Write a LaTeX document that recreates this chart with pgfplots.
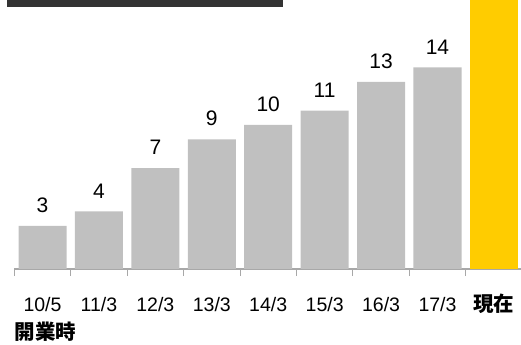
\documentclass[border=0pt]{standalone}
\usepackage{fontspec}
\setmainfont{Liberation Sans}
\newfontfamily\lbl{Liberation Sans}
\newfontfamily\cjk{Noto Sans CJK JP}
\usepackage{pgfplots}
\pgfplotsset{compat=1.18}
\definecolor{bargray}{HTML}{C0C0C0}
\definecolor{baryellow}{HTML}{FFCC00}
\definecolor{banner}{HTML}{333333}
\definecolor{axisgray}{HTML}{A8A8A8}
\newcommand{\tl}{\lbl\fontsize{19.5bp}{21bp}\selectfont}
\newcommand{\vl}{\lbl\fontsize{21bp}{23bp}\selectfont}
\newcommand{\jk}{\cjk\bfseries\fontsize{20.5bp}{22bp}\selectfont}
\begin{document}
\begin{tikzpicture}
\useasboundingbox (0,0) rectangle (521bp,345bp);
\begin{axis}[
  at={(14.3bp,76bp)}, anchor=south west,
  scale only axis,
  width=506.7bp, height=269bp,
  xmin=-0.5, xmax=8.48,
  ymin=0, ymax=18.68,
  axis x line=bottom,
  axis y line=none,
  axis line style={-, draw=axisgray, line width=2bp},
  /pgf/number format/assume math mode=true,
  xtick={0,1,2,3,4,5,6,7,8},
  xticklabels={{\tl 10/5},{\tl 11/3},{\tl 12/3},{\tl 13/3},{\tl 14/3},{\tl 15/3},{\tl 16/3},{\tl 17/3},{\jk 現在}},
  major tick length=0pt,
  minor xtick={-0.5,0.5,1.5,2.5,3.5,4.5,5.5,6.5,7.5},
  minor tick length=7bp,
  xtick align=inside,
  minor tick style={draw=axisgray, line width=1bp},
  xticklabel style={anchor=base, inner sep=0pt, yshift=-42bp},
  ybar, bar width=48bp, bar shift=0pt,
  clip=true,
]
\addplot[fill=bargray, draw=none,
  nodes near coords,
  every node near coord/.append style={font=\vl, text=black, inner sep=0pt, anchor=south, yshift=13bp}]
  coordinates {(0,3) (1,4) (2,7) (3,9) (4,10) (5,11) (6,13) (7,14)};
\addplot[fill=baryellow, draw=none] coordinates {(8,20)};
\end{axis}
\node[anchor=base west, inner sep=0pt, font=\jk] at (14.5bp,5.5bp) {開業時};
\fill[banner] (7bp,338bp) rectangle (283bp,345bp);
\end{tikzpicture}
\end{document}
